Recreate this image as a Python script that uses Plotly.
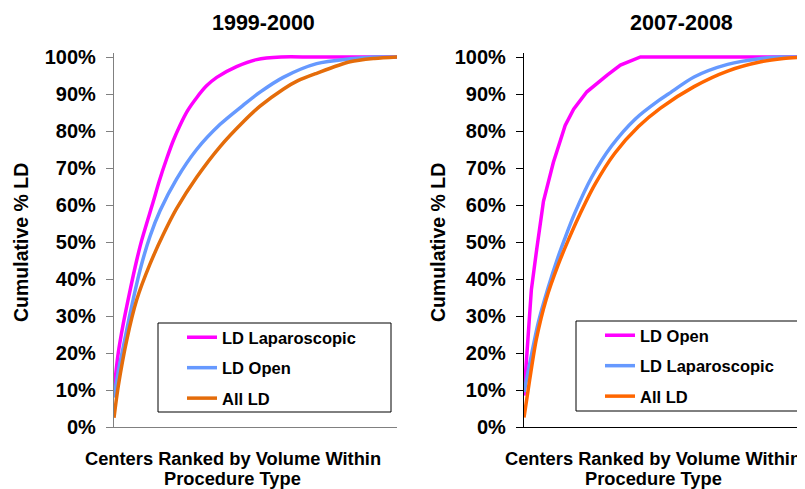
import plotly.graph_objects as go

# ---------------- data (x = center rank percentile, y = cumulative % LD) -------------
left_lap_x = [0, 1.5, 3.3, 5.7, 8.0, 9.8, 13.9, 16, 18.6, 21, 23.3, 26, 29.2, 32.7, 36.3, 43.3, 50.4, 59, 70, 85, 100]
left_lap_y = [10, 20, 28, 37, 45, 50.5, 61, 66.5, 72.5, 77.5, 81.5, 85.5, 89, 92.2, 94.5, 97.4, 99.3, 100, 100, 100, 100]

left_open_x = [0, 1.5, 3.3, 5.7, 9.2, 12.7, 16.3, 22.1, 29.2, 37.5, 45.7, 51.6, 59.8, 71.6, 83.4, 92, 100]
left_open_y = [8, 15, 21.7, 30.7, 42.4, 51.5, 58.5, 67, 75, 81.8, 87, 90.5, 94.5, 98.2, 99.5, 100, 100]

left_all_x = [0, 1.5, 4.5, 8.0, 12.7, 17.4, 22.1, 29.2, 37.5, 45.7, 51.6, 59.8, 65, 71.6, 83.4, 92, 100]
left_all_y = [2.5, 11, 23.5, 34.3, 44, 52, 59, 67.5, 75.8, 82.5, 86.7, 91.3, 93.6, 95.6, 98.7, 99.6, 100]

right_open_x = [0, 1.4, 2.6, 4.5, 6.9, 10.4, 14.6, 17.6, 22.3, 29.5, 34.2, 41.3, 100]
right_open_y = [8.5, 23.8, 37, 48, 61, 71.5, 81.5, 85.9, 90.6, 95.1, 97.8, 100, 100]

right_lap_x = [0, 2.6, 5.0, 8.5, 12.1, 14.5, 18, 24, 31.1, 39.4, 47.7, 51.2, 60.3, 72.2, 84, 91, 100]
right_lap_y = [9.4, 19.3, 28, 37.5, 46, 51, 57.8, 67.5, 76, 83.2, 88.2, 90, 94.6, 98, 99.6, 100, 100]

right_all_x = [0, 2.0, 4.4, 7.9, 12.1, 15.7, 19.2, 25.1, 32.2, 40.6, 48.4, 60.3, 72.2, 84, 92, 100]
right_all_y = [2.6, 12.7, 23.8, 34.6, 43.8, 50.5, 56.5, 65.5, 74, 81.2, 86.2, 92, 96.2, 98.7, 99.6, 100]

titles = ["1999-2000", "2007-2008"]
y_title = "Cumulative % LD"
x_title_lines = ["Centers Ranked by Volume Within", "Procedure Type"]
y_ticks = list(range(0, 101, 10))
y_tick_labels = [f"{v}%" for v in y_ticks]

PINK = "#FF00FF"
BLUE = "#6699FF"
ORANGE_L = "#E46C0A"
ORANGE_R = "#FF6600"

W, H = 805, 489
OFF = 8  # the page body margin shifts the figure by this many pixels
FONT = "Liberation Sans, Arial, sans-serif"


def px_x(p):
    return (p - OFF) / W


def px_y(p):
    return (H - (p - OFF)) / H


def bold(size):
    return dict(family=FONT, size=size, color="black", weight="bold")


fig = go.Figure()

line_w = 3.5
spl = dict(shape="spline", smoothing=0.8)
fig.add_trace(go.Scatter(x=left_lap_x, y=left_lap_y, mode="lines", name="LD Laparoscopic",
                         line=dict(color=PINK, width=line_w, **spl),
                         xaxis="x", yaxis="y", legend="legend", legendgroup="a"))
fig.add_trace(go.Scatter(x=left_open_x, y=left_open_y, mode="lines", name="LD Open",
                         line=dict(color=BLUE, width=line_w, **spl),
                         xaxis="x", yaxis="y", legend="legend", legendgroup="b"))
fig.add_trace(go.Scatter(x=left_all_x, y=left_all_y, mode="lines", name="All LD",
                         line=dict(color=ORANGE_L, width=line_w, **spl),
                         xaxis="x", yaxis="y", legend="legend", legendgroup="c"))

fig.add_trace(go.Scatter(x=right_open_x, y=right_open_y, mode="lines", name="LD Open",
                         line=dict(color=PINK, width=line_w),
                         xaxis="x2", yaxis="y2", legend="legend2", legendgroup="d"))
fig.add_trace(go.Scatter(x=right_lap_x, y=right_lap_y, mode="lines", name="LD Laparoscopic",
                         line=dict(color=BLUE, width=line_w, **spl),
                         xaxis="x2", yaxis="y2", legend="legend2", legendgroup="e"))
fig.add_trace(go.Scatter(x=right_all_x, y=right_all_y, mode="lines", name="All LD",
                         line=dict(color=ORANGE_R, width=line_w, **spl),
                         xaxis="x2", yaxis="y2", legend="legend2", legendgroup="f"))

ydom = [px_y(427), px_y(427 - 101 * 3.7)]


def yaxis(color, anchor):
    return dict(domain=ydom, range=[0, 101], anchor=anchor, automargin=False,
                tickmode="array", tickvals=y_ticks, ticktext=y_tick_labels,
                ticks="outside", ticklen=7, tickcolor=color, tickwidth=1,
                showline=True, linecolor=color, linewidth=1.2,
                showgrid=False, zeroline=False, ticklabelstandoff=6,
                tickfont=bold(20))


def xaxis(color, dom, anchor):
    return dict(domain=dom, range=[0, 100], anchor=anchor, automargin=False,
                showticklabels=False, ticks="", showline=True, linecolor=color,
                linewidth=1.2, showgrid=False, zeroline=False)


def ann(text, x, y, size, **kw):
    return dict(text=text, x=px_x(x), y=px_y(y), xref="paper", yref="paper",
                xanchor="center", yanchor="middle", showarrow=False, font=bold(size), **kw)


annotations = [ann(titles[0], 263, 23, 21.5), ann(titles[1], 681, 23, 21.5)]
for cx in (233, 653):
    annotations.append(ann(x_title_lines[0], cx, 458, 18.3))
    annotations.append(ann(x_title_lines[1], cx, 478, 18.3))
for cx in (21, 438):
    annotations.append(ann(y_title, cx, 243, 19.5, textangle=-90))

fig.update_layout(
    width=W, height=H,
    margin=dict(l=0, r=0, t=0, b=0, autoexpand=False),
    paper_bgcolor="white", plot_bgcolor="white",
    font=dict(family=FONT, color="black"),
    xaxis=xaxis("#808080", [px_x(114), px_x(397)], "y"),
    yaxis=yaxis("#808080", "x"),
    xaxis2=xaxis("black", [px_x(524), px_x(806)], "y2"),
    yaxis2=yaxis("black", "x2"),
    showlegend=True,
    legend=dict(x=px_x(182), y=px_y(320), xanchor="left", yanchor="top",
                bgcolor="rgba(0,0,0,0)", borderwidth=0, tracegroupgap=6,
                font=bold(16.5)),
    legend2=dict(x=px_x(600), y=px_y(318), xanchor="left", yanchor="top",
                 bgcolor="rgba(0,0,0,0)", borderwidth=0, tracegroupgap=6,
                 font=bold(16.5)),
    shapes=[
        dict(type="rect", xref="paper", yref="paper",
             x0=px_x(158), x1=px_x(391), y0=px_y(412), y1=px_y(323),
             line=dict(color="black", width=1), fillcolor="white", layer="below"),
        dict(type="rect", xref="paper", yref="paper",
             x0=px_x(576), x1=px_x(812), y0=px_y(411), y1=px_y(321),
             line=dict(color="black", width=1), fillcolor="white", layer="below"),
    ],
    annotations=annotations,
)

fig.write_html("out.html")
